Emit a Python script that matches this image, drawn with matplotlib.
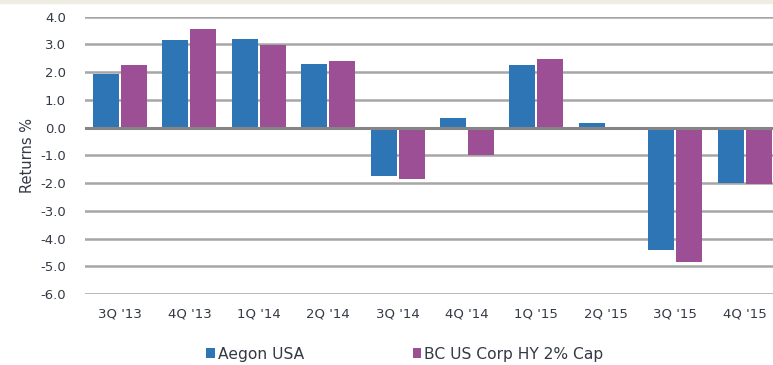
import matplotlib.pyplot as plt
import numpy as np
from matplotlib.patches import Rectangle

quarters = ["3Q '13", "4Q '13", "1Q '14", "2Q '14", "3Q '14",
            "4Q '14", "1Q '15", "2Q '15", "3Q '15", "4Q '15"]
aegon_usa = [1.95, 3.15, 3.2, 2.3, -1.76, 0.35, 2.27, 0.17, -4.4, -2.0]
bc_us_corp = [2.27, 3.56, 2.97, 2.39, -1.85, -1.0, 2.49, 0.0, -4.83, -2.03]
series_names = ["Aegon USA", "BC US Corp HY 2% Cap"]
yticks = np.arange(-6, 4.01, 1.0)

blue = "#2E75B6"
purple = "#9C4F95"
text_col = "#343946"

plt.rcParams['font.family'] = ['DejaVu Sans']

fig = plt.figure(figsize=(7.73, 3.65), dpi=100)
W, H = 773, 365
# axes spans past the right edge of the canvas
left, right = 85.3, 779.3
top, bottom = 16.7, 294.0
ax = fig.add_axes([left / W, 1 - bottom / H, (right - left) / W, (bottom - top) / H])

x = np.arange(len(quarters))
bw = 0.375
ax.bar(x - bw / 2 - 0.015, aegon_usa, width=bw, color=blue, label=series_names[0], zorder=3)
ax.bar(x + bw / 2 + 0.015, bc_us_corp, width=bw, color=purple, label=series_names[1], zorder=3)

ax.set_xlim(-0.5, len(quarters) - 0.5)
ax.set_ylim(-6, 4)
ax.set_yticks(yticks)
ax.set_yticklabels([f"{v:.1f}" for v in yticks])
ax.set_xticks(x)
ax.set_xticklabels(quarters)

for v in yticks:
    if v == 0:
        continue
    ax.axhline(v, color="#a6a6a6", lw=1.8, zorder=1)
ax.axhline(0, color="#858585", lw=2.2, zorder=4)

for s in ax.spines.values():
    s.set_visible(False)
ax.tick_params(axis='both', length=0, colors=text_col, labelsize=9.5)
ax.tick_params(axis='y', pad=14)
ax.tick_params(axis='x', pad=10)
ax.set_ylabel("Returns %", color=text_col, fontsize=10.5, labelpad=4)

# thin beige band along the top edge
fig.patches.append(Rectangle((0, 1 - 3 / H), 1, 3 / H, transform=fig.transFigure,
                             color="#efece2", zorder=0))

leg = fig.legend(loc='center left', bbox_to_anchor=(192 / W, 1 - 354 / H), ncol=2,
                 frameon=False, fontsize=11.2, handlelength=0.55, handleheight=0.55,
                 handletextpad=0.2, columnspacing=7.0, labelcolor=text_col)

fig.savefig("out.png", dpi=100)
